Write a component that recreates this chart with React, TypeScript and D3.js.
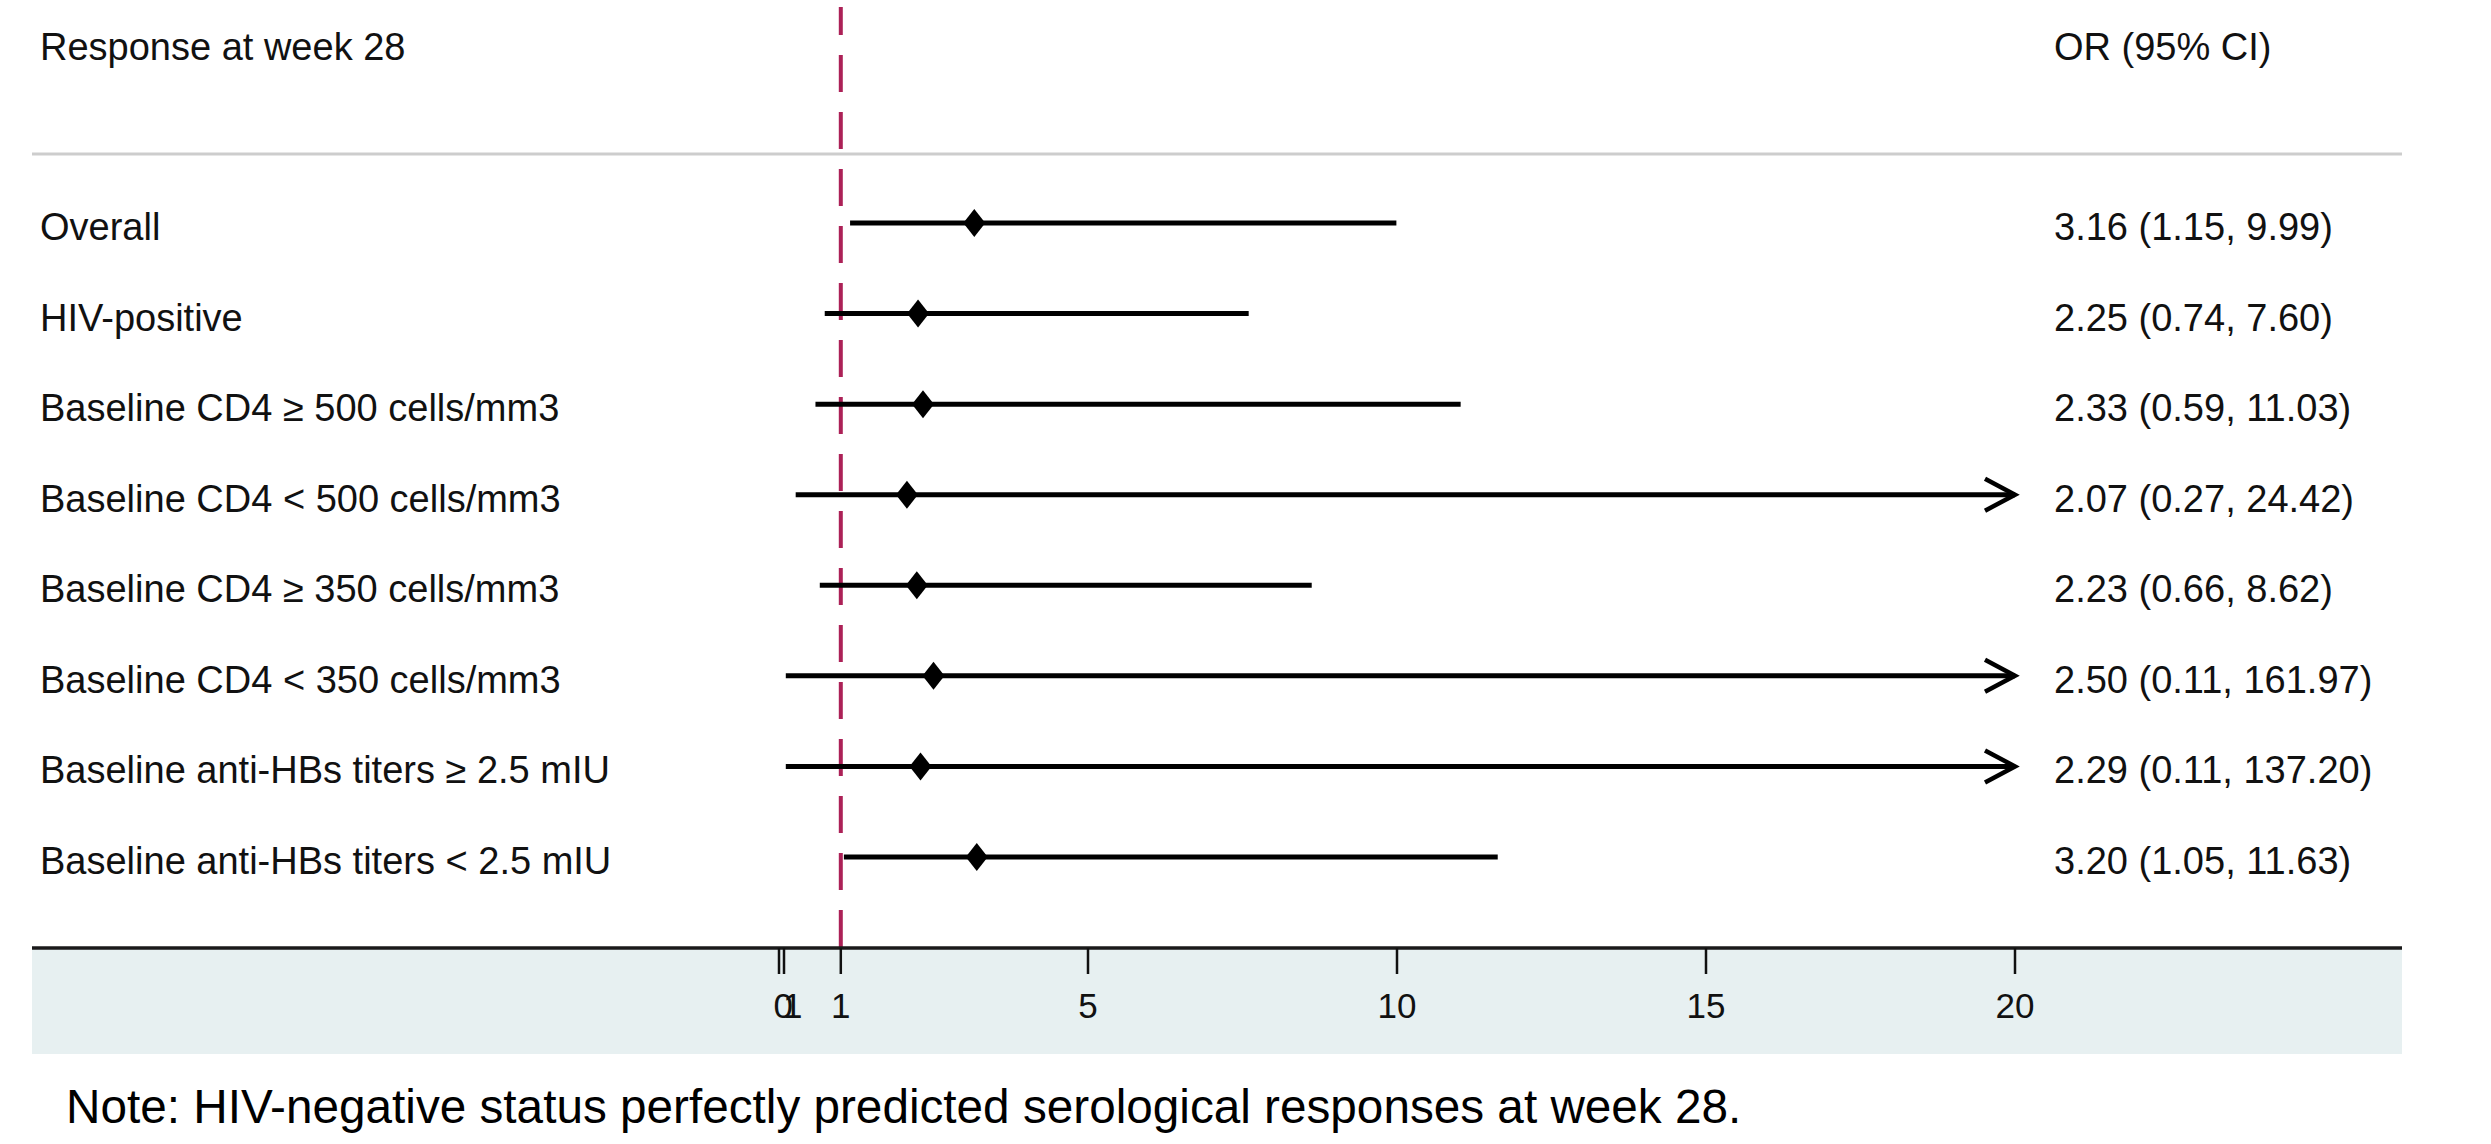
import React, { useRef, useEffect } from "react";
import * as d3 from "d3";

// subgroup rows, top to bottom
const labels = [
  "Overall",
  "HIV-positive",
  "Baseline CD4 \u2265 500 cells/mm3",
  "Baseline CD4 < 500 cells/mm3",
  "Baseline CD4 \u2265 350 cells/mm3",
  "Baseline CD4 < 350 cells/mm3",
  "Baseline anti-HBs titers \u2265 2.5 mIU",
  "Baseline anti-HBs titers < 2.5 mIU",
];
const oddsRatios = [3.16, 2.25, 2.33, 2.07, 2.23, 2.5, 2.29, 3.2];
const ciLower = [1.15, 0.74, 0.59, 0.27, 0.66, 0.11, 0.11, 1.05];
const ciUpper = [9.99, 7.6, 11.03, 24.42, 8.62, 161.97, 137.2, 11.63];

const tickValues = [0, 1, 5, 10, 15, 20];
// the zero tick carries a break mark, its label runs into a "1"
const tickLabels = ["01", "1", "5", "10", "15", "20"];

const headerLeft = "Response at week 28";
const headerRight = "OR (95% CI)";
const note =
  "Note: HIV-negative status perfectly predicted serological responses at week 28.";

const W = 2491;
const H = 1144;
const FONT = "'Liberation Sans', Arial, Helvetica, sans-serif";

function ForestPlot() {
  const svgRef = useRef<SVGSVGElement>(null);

  useEffect(() => {
    const svg = d3.select(svgRef.current);
    svg.selectAll("*").remove();

    const left = 32;
    const right = 2402;
    const axisY = 948;
    const xMax = 20;

    const x = d3.scaleLinear().domain([0, xMax]).range([779, 2015]);
    const y = d3.scalePoint<string>().domain(labels).range([223, 857]);
    const fmt = d3.format(".2f");

    svg.append("rect").attr("width", W).attr("height", H).attr("fill", "#fff");

    // axis band
    svg
      .append("rect")
      .attr("x", left)
      .attr("y", axisY)
      .attr("width", right - left)
      .attr("height", 1054 - axisY)
      .attr("fill", "#e7f0f1");

    // headers
    svg
      .append("text")
      .attr("x", 40)
      .attr("y", 60)
      .attr("font-size", 38)
      .attr("font-family", FONT)
      .attr("fill", "#111")
      .text(headerLeft);
    svg
      .append("text")
      .attr("x", 2054)
      .attr("y", 60)
      .attr("font-size", 38)
      .attr("font-family", FONT)
      .attr("fill", "#111")
      .text(headerRight);

    // header separator
    svg
      .append("line")
      .attr("x1", left)
      .attr("x2", right)
      .attr("y1", 154)
      .attr("y2", 154)
      .attr("stroke", "#cdcdcd")
      .attr("stroke-width", 3);

    // reference line at OR = 1
    svg
      .append("line")
      .attr("x1", x(1))
      .attr("x2", x(1))
      .attr("y1", 7)
      .attr("y2", axisY)
      .attr("stroke", "#ac2157")
      .attr("stroke-width", 4)
      .attr("stroke-dasharray", "37 20")
      .attr("stroke-dashoffset", 9);

    const rows = labels.map((label, i) => ({
      label,
      or: oddsRatios[i],
      lo: ciLower[i],
      hi: ciUpper[i],
    }));

    const g = svg.selectAll(".row").data(rows).enter().append("g").attr("class", "row");

    // row labels
    g.append("text")
      .attr("x", 40)
      .attr("y", (d) => y(d.label)! + 17)
      .attr("font-size", 38)
      .attr("font-family", FONT)
      .attr("fill", "#111")
      .text((d) => d.label);

    // CI lines (clipped at axis max)
    g.append("line")
      .attr("x1", (d) => x(d.lo))
      .attr("x2", (d) => x(Math.min(d.hi, xMax)))
      .attr("y1", (d) => y(d.label)!)
      .attr("y2", (d) => y(d.label)!)
      .attr("stroke", "#000")
      .attr("stroke-width", 5);

    // arrowheads where CI runs off the axis
    g.filter((d) => d.hi > xMax)
      .append("path")
      .attr("d", (d) => {
        const tx = x(xMax);
        const ty = y(d.label)!;
        return `M${tx - 30},${ty - 16}L${tx},${ty}L${tx - 30},${ty + 16}`;
      })
      .attr("fill", "none")
      .attr("stroke", "#000")
      .attr("stroke-width", 4.5);

    // point estimates
    g.append("path")
      .attr("d", (d) => {
        const cx = x(d.or);
        const cy = y(d.label)!;
        return `M${cx - 11},${cy}L${cx},${cy - 14}L${cx + 11},${cy}L${cx},${cy + 14}Z`;
      })
      .attr("fill", "#000");

    // OR (95% CI) text
    g.append("text")
      .attr("x", 2054)
      .attr("y", (d) => y(d.label)! + 17)
      .attr("font-size", 38)
      .attr("font-family", FONT)
      .attr("fill", "#111")
      .text((d) => `${fmt(d.or)} (${fmt(d.lo)}, ${fmt(d.hi)})`);

    // x axis
    svg
      .append("line")
      .attr("x1", left)
      .attr("x2", right)
      .attr("y1", axisY)
      .attr("y2", axisY)
      .attr("stroke", "#1a1a1a")
      .attr("stroke-width", 3.5);

    const ticks = svg
      .selectAll(".tick")
      .data(tickValues)
      .enter()
      .append("g")
      .attr("class", "tick");

    ticks
      .append("line")
      .attr("x1", (d) => x(d))
      .attr("x2", (d) => x(d))
      .attr("y1", axisY)
      .attr("y2", axisY + 26)
      .attr("stroke", "#111")
      .attr("stroke-width", 2.5);

    // axis break mark next to zero
    svg
      .append("line")
      .attr("x1", x(0) + 5)
      .attr("x2", x(0) + 5)
      .attr("y1", axisY)
      .attr("y2", axisY + 26)
      .attr("stroke", "#111")
      .attr("stroke-width", 2.5);

    ticks
      .append("text")
      .attr("x", (d) => (d === 0 ? x(d) + 4 : x(d)))
      .attr("y", 1018)
      .attr("text-anchor", "middle")
      .attr("font-size", 35)
      .attr("font-family", FONT)
      .attr("letter-spacing", (d) => (d === 0 ? -10 : 0))
      .attr("fill", "#111")
      .text((d, i) => tickLabels[i]);

    // footnote
    svg
      .append("text")
      .attr("x", 66)
      .attr("y", 1123)
      .attr("font-size", 47.7)
      .attr("font-family", FONT)
      .attr("fill", "#000")
      .text(note);
  }, []);

  return <svg ref={svgRef} width={W} height={H} />;
}

export default function App() {
  return (
    <div style={{ position: "absolute", left: 0, top: 0 }}>
      <ForestPlot />
    </div>
  );
}
